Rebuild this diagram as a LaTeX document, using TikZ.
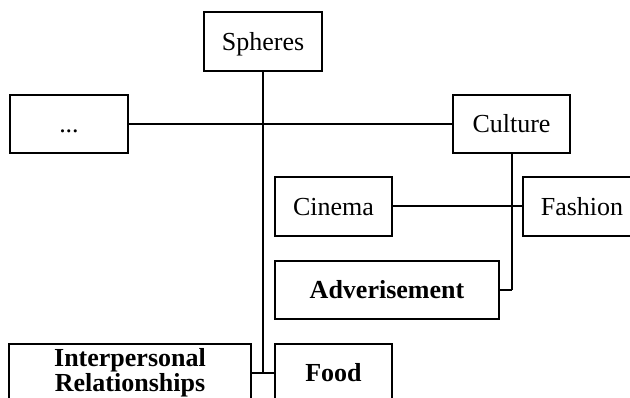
\documentclass[tikz,border=0pt]{standalone}
\usepackage{fontspec}
\setmainfont{Liberation Serif}
\begin{document}
\begin{tikzpicture}[x=1pt,y=-1pt,
  box/.style={draw=black,line width=1.6pt,rectangle,inner sep=0pt,align=center,
    font=\fontsize{26}{25}\selectfont},
  oneline/.style={box,text height=18pt,text depth=0pt},
  conn/.style={draw=black,line width=2pt}]
\useasboundingbox (0,0) rectangle (630,398);
\clip (0,0) rectangle (630,398);
\node[oneline,minimum width=118pt,minimum height=59pt] (sph) at (263,41.5) {Spheres};
\node[oneline,minimum width=118pt,minimum height=58pt] (dots) at (69,124) {...};
\node[oneline,minimum width=117pt,minimum height=58pt] (cul) at (511.5,124) {Culture};
\node[oneline,minimum width=117pt,minimum height=59pt] (cin) at (333.5,206.5) {Cinema};
\node[oneline,minimum width=118pt,minimum height=59pt] (fas) at (582,206.5) {Fashion};
\node[oneline,minimum width=224pt,minimum height=58pt] (adv) at (387,290) {\bfseries Adverisement};
\node[oneline,minimum width=117pt,minimum height=58pt] (food) at (333.5,373) {\bfseries Food};
\node[box,minimum width=242pt,minimum height=58pt] (inter) at (130,373) {\bfseries Interpersonal\\\bfseries Relationships};
\coordinate (j1) at (sph.south |- inter.east);
\coordinate (j2) at (cul.south |- adv.east);
\draw[conn] (sph.south) -- (j1);
\draw[conn] (inter.east) -- (food.west);
\draw[conn] (dots.east) -- (cul.west);
\draw[conn] (cul.south) -- (j2);
\draw[conn] (adv.east) -- (j2);
\draw[conn] (cin.east) -- (fas.west);
\end{tikzpicture}
\end{document}
